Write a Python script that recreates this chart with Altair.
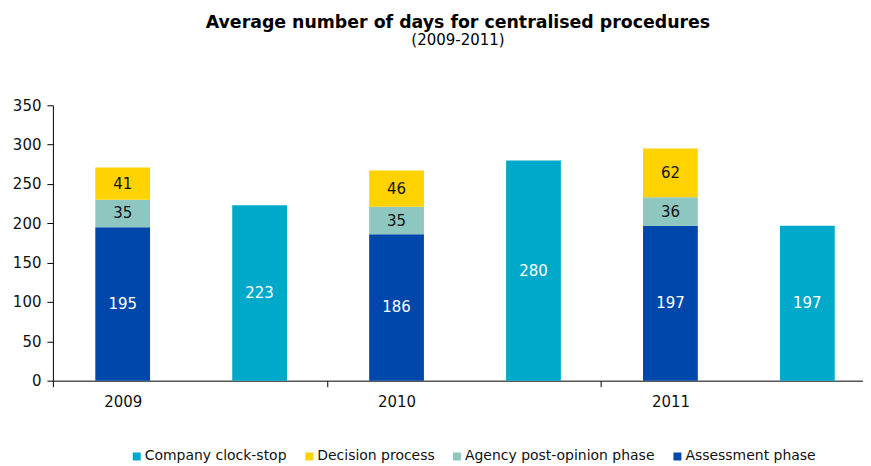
import altair as alt
import pandas as pd

years = ["2009", "2010", "2011"]
assessment = [195, 186, 197]
post_opinion = [35, 35, 36]
decision = [41, 46, 62]
clock_stop = [223, 280, 197]

phases = ["Company clock-stop", "Decision process", "Agency post-opinion phase", "Assessment phase"]
colors = ["#00A9C9", "#FFD200", "#8DC7C0", "#0047AB"]
y_ticks = [0, 50, 100, 150, 200, 250, 300, 350]

slots = []
rows = []
for i, yr in enumerate(years):
    s_stack = yr
    s_clock = yr + " clock-stop"
    slots += [s_stack, s_clock]
    rows.append({"slot": s_stack, "phase": "Assessment phase", "value": assessment[i]})
    rows.append({"slot": s_stack, "phase": "Agency post-opinion phase", "value": post_opinion[i]})
    rows.append({"slot": s_stack, "phase": "Decision process", "value": decision[i]})
    rows.append({"slot": s_clock, "phase": "Company clock-stop", "value": clock_stop[i]})
df = pd.DataFrame(rows)

FONT = "DejaVu Sans"

x = alt.X(
    "slot:N",
    sort=slots,
    scale=alt.Scale(paddingInner=0.6, paddingOuter=0.258, align=0.6),
    axis=alt.Axis(
        values=years, title=None, labelAngle=0, bandPosition=0.5,
        tickOffset=-69.6, labelOffset=69.6, tickSize=6, labelPadding=8,
        labelFontSize=15, labelFont=FONT, labelColor="#111",
        domainColor="black", tickColor="black",
    ),
)

yscale = alt.Scale(domain=[0, 350], nice=False)
yaxis = alt.Axis(
    values=y_ticks, title=None, grid=False,
    labelOverlap=False, labelBound=False, labelFlush=False,
    tickSize=6, labelPadding=6, labelFontSize=15, labelFont=FONT, labelColor="#111",
    domainColor="black", tickColor="black")

base = alt.Chart(df).transform_calculate(
    ord="indexof(['Company clock-stop','Decision process','Agency post-opinion phase','Assessment phase'], datum.phase)"
).transform_stack(
    stack="value", groupby=["slot"], as_=["lo", "hi"],
    sort=[alt.SortField("ord", order="descending")],
).transform_calculate(mid="(datum.lo + datum.hi) / 2")

bars = base.mark_bar().encode(
    x=x,
    y=alt.Y("lo:Q", scale=yscale, axis=yaxis),
    y2="hi:Q",
    color=alt.Color("phase:N", scale=alt.Scale(domain=phases, range=colors),
                    legend=alt.Legend(orient="none", legendX=77, legendY=345,
                                      direction="horizontal", title=None,
                                      symbolType="square", symbolSize=64, symbolStrokeWidth=0,
                                      labelFontSize=14, labelFont=FONT, labelColor="#111",
                                      labelLimit=400, columnPadding=15, labelOffset=1)),
)

labels = base.mark_text(fontSize=15, font=FONT).encode(
    x=x,
    y=alt.Y("mid:Q", scale=yscale, axis=yaxis),
    text="value:Q",
    color=alt.condition(
        "datum.phase == 'Agency post-opinion phase' || datum.phase == 'Decision process'",
        alt.value("#111"), alt.value("white")),
)

chart = (bars + labels).properties(
    width=812, height=276,
    padding={"left": 4, "top": 5, "right": 0, "bottom": 0},
    title=alt.TitleParams(
        text="Average number of days for centralised procedures",
        subtitle="(2009-2011)",
        font=FONT, fontSize=17.4, fontWeight="bold", color="black",
        subtitleFont=FONT, subtitleFontSize=15, subtitleColor="black",
        subtitlePadding=2, offset=50, anchor="middle",
    ),
).configure_view(stroke=None)

chart.save("out.html", embed_options={"renderer": "svg", "actions": False})
